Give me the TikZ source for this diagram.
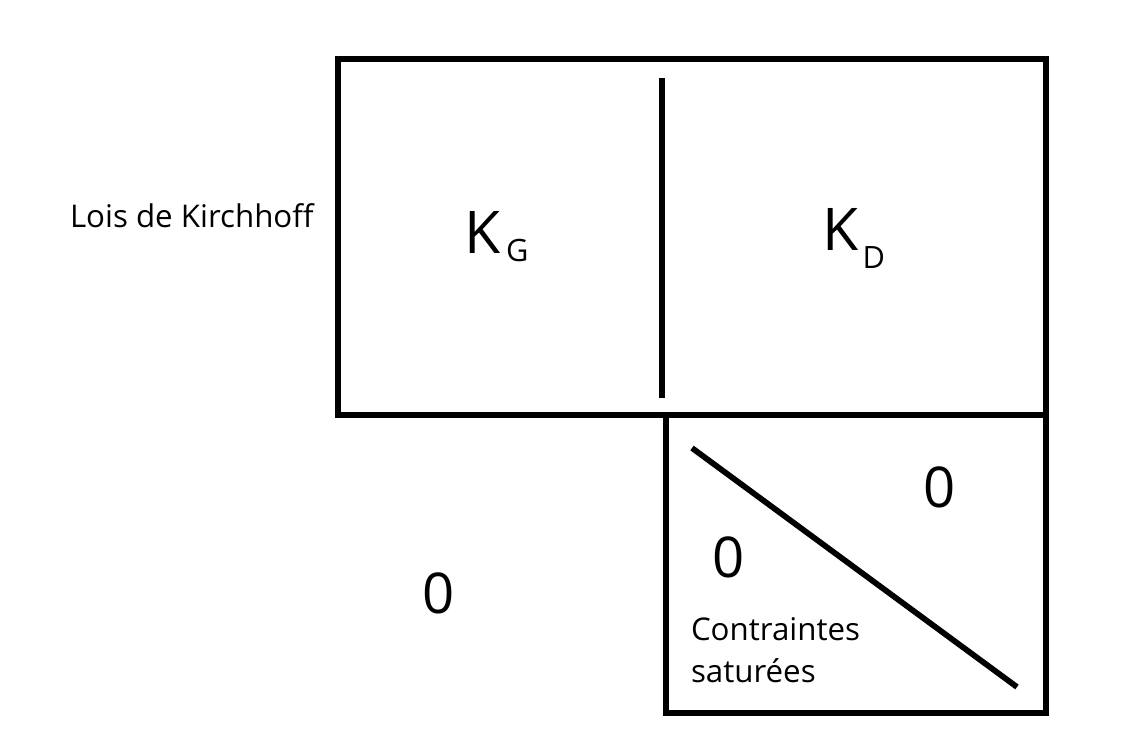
\documentclass[tikz,border=0pt]{standalone}
\usepackage{fontspec}
\setmainfont{Open Sans}
\begin{document}
\begin{tikzpicture}[x=0.02cm, y=-0.02cm, line width=1.15mm,
  every node/.style={inner sep=0pt, outer sep=0pt},
  txt/.style={font=\fontsize{17.8}{24}\selectfont},
  big/.style={font=\fontsize{32}{36}\selectfont},
  mat/.style={font=\fontsize{33.5}{36}\selectfont}]
\useasboundingbox (0,0) rectangle (1139,745);
% blocks
\coordinate (TL) at (338,58.7);
\coordinate (TR) at (1046,58.7);
\coordinate (BL) at (338,414.7);
\coordinate (BR) at (1046,414.7);
\coordinate (S1) at (666,414.7);
\coordinate (S2) at (666,713);
\coordinate (S3) at (1046,713);
\coordinate (M1) at (662,78);
\coordinate (M2) at (662,397.7);
\coordinate (D1) at (692,448);
\coordinate (D2) at (1017,687);
\draw (TL) rectangle (BR);
\draw (M1) -- (M2);
\draw (S1) -- (S2) -- (S3) -- (BR);
\draw (D1) -- (D2);
% labels
\node[txt, anchor=base west] (lois) at (70,227) {Lois de Kirchhoff};
\node[mat, anchor=base west] (kg) at (464,253) {K\hspace{3.4pt}{\fontsize{17.5}{20}\selectfont\raisebox{-5pt}{G}}};
\node[mat, anchor=base west] (kd) at (822,250.7) {K\hspace{2.5pt}{\fontsize{17.5}{20}\selectfont\raisebox{-10pt}{D}}};
\node[big] (z1) at (438.5,593) {0};
\node[big] (z2) at (940,487.5) {0};
\node[big] (z3) at (729,557) {0};
\node[txt, anchor=north west, align=left] (sat) at (691,617.5) {Contraintes\\saturées};
\end{tikzpicture}
\end{document}
